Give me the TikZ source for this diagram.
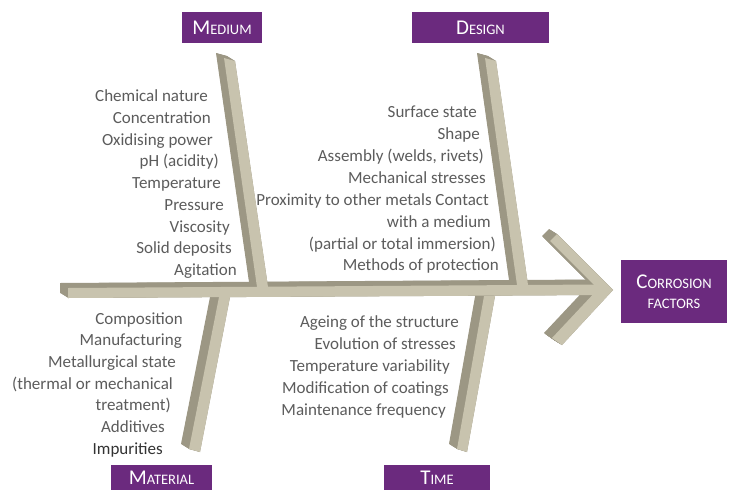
\documentclass[tikz,border=0pt]{standalone}
\usepackage{fontspec}
\setmainfont{Carlito}
\usepackage{tikz}
\usepackage{xcolor}
\definecolor{bonelight}{HTML}{C8C3AE}
\definecolor{bonedark}{HTML}{9C9784}
\definecolor{fishpurple}{HTML}{6B2A7E}
\definecolor{labelgray}{HTML}{5C5C5C}
\newcommand{\fakesc}[2]{{\fontsize{21}{24}\selectfont #1}{\fontsize{14.5}{17}\selectfont #2}}

\begin{document}
\begin{tikzpicture}[x=1pt,y=-1pt,
  bonefront/.style={fill=bonelight},
  boneside/.style={fill=bonedark},
  factor/.style={anchor=base east,inner sep=0pt,text=labelgray,font=\fontsize{17}{20}\selectfont},
  cat/.style={fill=fishpurple,text=white,inner sep=0pt,minimum height=31pt},
  catlow/.style={cat,anchor=north,minimum height=0pt,text height=19.5pt,text depth=5.5pt,inner ysep=0pt}]
\useasboundingbox[fill=white] (0,0) rectangle (733,490);

\foreach \x/\y/\t [count=\i] in {208/101.5/Chemical nature, 211/123.3/Concentration,
  213/145/Oxidising power, 219/166.8/pH (acidity), 221/188.5/Temperature, 224/210.3/Pressure,
  230/232/Viscosity, 232/253.8/Solid deposits, 237/275.5/Agitation}
  \node[factor] (med\i) at (\x,\y) {\t};
\foreach \x/\y/\t [count=\i] in {477/117/Surface state, 480/139/Shape,
  484/161/{Assembly (welds, rivets)}, 486/183/Mechanical stresses,
  489/205/Proximity to other metals Contact, 491/227/with a medium,
  496/249/(partial or total immersion), 499/270.5/Methods of protection}
  \node[factor] (des\i) at (\x,\y) {\t};
\foreach \x/\y/\t [count=\i] in {183/324/Composition, 182/345.7/Manufacturing,
  176/367.4/Metallurgical state, 173/389/(thermal or mechanical, 171/410.8/treatment),
  165/432.5/Additives}
  \node[factor] (mat\i) at (\x,\y) {\t};
\node[factor,text=black!80] (mat7) at (163,454) {Impurities};
\foreach \x/\y/\t [count=\i] in {459/327.5/Ageing of the structure, 456/349.5/Evolution of stresses,
  450/371.5/Temperature variability, 449/393.5/Modification of coatings, 446/415.5/Maintenance frequency}
  \node[factor] (tim\i) at (\x,\y) {\t};

\foreach \pts in {{(68,288) -- (600,284.5) -- (600,295) -- (68,298)},
  {(557,234) -- (613,290) -- (562,345) -- (552,338) -- (598,289) -- (550,241)},
  {(224,58) -- (235,61) -- (268,287) -- (257,287)},
  {(485,58) -- (496,61) -- (528,285) -- (517,285)},
  {(219,297) -- (230,297) -- (200,452) -- (189,449)},
  {(484,296) -- (495,296) -- (467,452) -- (457,449)}}
  \foreach \s in {0,0.5,...,8}
    \fill[boneside,shift={(-\s,-0.625*\s)}] \pts -- cycle;
\foreach \pts in {{(68,288) -- (600,284.5) -- (600,295) -- (68,298)},
  {(557,234) -- (613,290) -- (562,345) -- (552,338) -- (598,289) -- (550,241)},
  {(224,58) -- (235,61) -- (268,287) -- (257,287)},
  {(485,58) -- (496,61) -- (528,285) -- (517,285)},
  {(219,297) -- (230,297) -- (200,452) -- (189,449)},
  {(484,296) -- (495,296) -- (467,452) -- (457,449)}}
  \fill[bonefront] \pts -- cycle;

\node[cat,minimum width=80pt] (medium) at (222,27.5) {\fakesc{M}{EDIUM}};
\node[cat,minimum width=137pt] (design) at (480.5,27.5) {\fakesc{D}{ESIGN}};
\node[cat,minimum width=106pt,minimum height=63pt,align=center,font=\fontsize{14.5}{20}\selectfont]
  (effect) at (674,291.5) {\fakesc{C}{ORROSION}\\FACTORS};
\node[catlow,minimum width=101pt] (material) at (161.5,465) {\fakesc{M}{ATERIAL}};
\node[catlow,minimum width=106pt] (time) at (437,465) {\fakesc{T}{IME}};
\end{tikzpicture}
\end{document}
